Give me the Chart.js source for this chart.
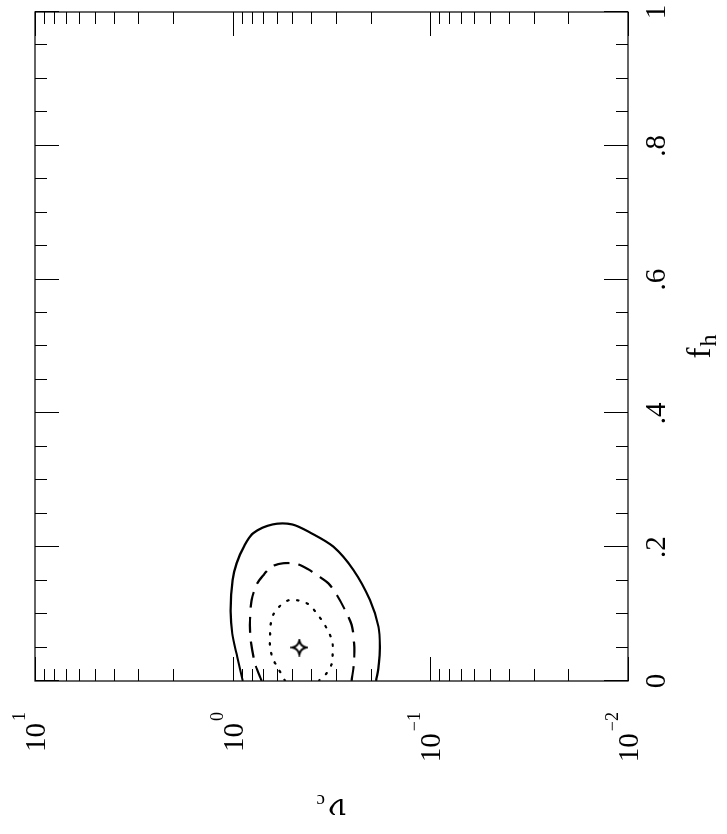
<!DOCTYPE html>
<html>
<head>
<meta charset="utf-8">
<script src="https://cdn.jsdelivr.net/npm/chart.js@4/dist/chart.umd.min.js"></script>
<style>
html,body{margin:0;padding:0;background:#fff;overflow:hidden;width:727px;height:834px;}
#wrap{position:absolute;left:0;top:0;width:834px;height:727px;transform-origin:0 0;transform:translate(0,834px) rotate(-90deg);background:#fff;}
</style>
</head>
<body>
<div id="wrap"><canvas id="c" width="834" height="727"></canvas></div>
<script>
// ---- data (f_h on the linear axis, nu_c on the log axis) ----
const fhTickValues = [0, 0.2, 0.4, 0.6, 0.8, 1];
const fhTickLabels = ['0', '.2', '.4', '.6', '.8', '1'];
const nuTickValues = [10, 1, 0.1, 0.01];
const nuTickExponents = ['1', '0', '\u22121', '\u22122'];

const solidFh = [0, 0.036, 0.071, 0.106, 0.151, 0.176, 0.201, 0.221, 0.234, 0.234, 0.222, 0.201, 0.166, 0.121, 0.081, 0.051, 0.026, 0];
const solidNu = [0.889, 0.948, 1.005, 1.023, 1.0, 0.955, 0.877, 0.787, 0.628, 0.499, 0.406, 0.310, 0.245, 0.202, 0.183, 0.180, 0.182, 0.188];

const dashedFh = [0, 0.026, 0.061, 0.091, 0.121, 0.144, 0.158, 0.171, 0.176, 0.175, 0.167, 0.157, 0.146, 0.129, 0.106, 0.084, 0.056, 0.031, 0];
const dashedNu = [0.713, 0.771, 0.811, 0.817, 0.802, 0.757, 0.700, 0.635, 0.555, 0.474, 0.415, 0.369, 0.328, 0.298, 0.270, 0.250, 0.243, 0.243, 0.250];

const dottedFh = [0, 0.021, 0.034, 0.051, 0.066, 0.084, 0.099, 0.112, 0.121, 0.120, 0.114, 0.101, 0.089, 0.074, 0.059, 0.044, 0.026, 0.012, 0.001];
const dottedNu = [0.543, 0.594, 0.628, 0.647, 0.647, 0.643, 0.624, 0.577, 0.518, 0.460, 0.410, 0.376, 0.351, 0.328, 0.313, 0.312, 0.315, 0.334, 0.365];

const bestFh = [0.050];
const bestNu = [0.46];

// ---- helpers ----
const pts = (xs, ys) => xs.map((v, i) => ({x: v, y: ys[i]}));

// four-pointed star marker
const star = document.createElement('canvas');
star.width = 18; star.height = 18;
(function () {
  const g = star.getContext('2d');
  const c = 9, r = 7, k = 1.2;
  g.strokeStyle = '#000'; g.lineWidth = 2;
  g.beginPath();
  g.moveTo(c, c - r);
  g.quadraticCurveTo(c + k, c - k, c + r, c);
  g.quadraticCurveTo(c + k, c + k, c, c + r);
  g.quadraticCurveTo(c - k, c + k, c - r, c);
  g.quadraticCurveTo(c - k, c - k, c, c - r);
  g.closePath();
  g.stroke();
})();

const SERIF = '"Liberation Serif", "DejaVu Serif", serif';

const framePlugin = {
  id: 'frame',
  afterDraw(chart) {
    const {ctx, chartArea: a, scales: {x, y}} = chart;
    ctx.save();
    ctx.strokeStyle = '#111';
    ctx.lineWidth = 1.3;
    ctx.strokeRect(a.left, a.top, a.right - a.left, a.bottom - a.top);
    ctx.lineWidth = 1;
    ctx.strokeStyle = '#000';
    const line = (x1, y1, x2, y2) => { ctx.beginPath(); ctx.moveTo(x1, y1); ctx.lineTo(x2, y2); ctx.stroke(); };
    // f_h ticks (every 0.05, long at labelled values)
    for (let i = 0; i <= 20; i++) {
      const v = i * 0.05;
      const major = fhTickValues.some(t => Math.abs(t - v) < 1e-6);
      const len = major ? 24 : 12;
      const px = Math.round(x.getPixelForValue(v)) + 0.5;
      line(px, a.bottom, px, a.bottom - len);
      line(px, a.top, px, a.top + len);
    }
    // nu ticks (log, 1..9 per decade)
    const decades = [0.01, 0.1, 1];
    for (const d of decades) {
      for (let m = 1; m <= 9; m++) {
        const v = m * d;
        const len = m === 1 ? 24 : 12;
        const py = Math.round(y.getPixelForValue(v)) + 0.5;
        line(a.left, py, a.left + len, py);
        line(a.right, py, a.right - len, py);
      }
    }
    {
      const py = Math.round(y.getPixelForValue(10)) + 0.5;
      line(a.left, py, a.left + 24, py);
      line(a.right, py, a.right - 24, py);
    }
    // f_h tick labels
    ctx.fillStyle = '#000';
    ctx.font = '29px ' + SERIF;
    ctx.textAlign = 'center';
    ctx.textBaseline = 'alphabetic';
    fhTickValues.forEach((v, i) => {
      ctx.fillText(fhTickLabels[i], x.getPixelForValue(v), a.bottom + 37);
    });
    // nu tick labels: 10^n, right aligned
    const rightEdge = a.left - 31;
    nuTickValues.forEach((v, i) => {
      const py = y.getPixelForValue(v);
      ctx.textAlign = 'right';
      ctx.font = '18px ' + SERIF;
      const ew = ctx.measureText(nuTickExponents[i]).width;
      ctx.fillText(nuTickExponents[i], rightEdge, py - 10);
      ctx.font = '29px ' + SERIF;
      ctx.fillText('10', rightEdge - ew - 2, py + 10);
    });
    // f_h title
    ctx.textAlign = 'left';
    ctx.font = '33px ' + SERIF;
    const fw = ctx.measureText('f').width;
    ctx.font = '24px ' + SERIF;
    const hw = ctx.measureText('h').width;
    const cx = (a.left + a.right) / 2;
    let sx = cx - (fw + hw + 1) / 2;
    ctx.font = '33px ' + SERIF;
    ctx.fillText('f', sx, a.bottom + 82);
    ctx.font = '24px ' + SERIF;
    ctx.fillText('h', sx + fw + 1, a.bottom + 88);
    // nu_c title (rotated)
    ctx.save();
    const cy = (a.top + a.bottom) / 2;
    ctx.translate(35, cy);
    ctx.rotate(-Math.PI / 2);
    const NUFONT = '30px "DejaVu Serif", serif';
    ctx.font = NUFONT;
    const nw = ctx.measureText('\u03bd').width;
    ctx.font = '19px ' + SERIF;
    const cw = ctx.measureText('c').width;
    const u0 = -(nw + cw + 3) / 2;
    ctx.font = NUFONT;
    ctx.fillText('\u03bd', u0, 0);
    ctx.font = '19px ' + SERIF;
    ctx.fillText('c', u0 + nw + 3, 4);
    ctx.restore();
    ctx.restore();
  }
};

new Chart(document.getElementById('c'), {
  type: 'scatter',
  data: {
    datasets: [
      {data: pts(solidFh, solidNu), showLine: true, borderColor: '#000', borderWidth: 2.2, pointRadius: 0, tension: 0.3, fill: false},
      {data: pts(dashedFh, dashedNu), showLine: true, borderColor: '#000', borderWidth: 2.2, borderDash: [16, 9], pointRadius: 0, tension: 0.3, fill: false},
      {data: pts(dottedFh, dottedNu), showLine: true, borderColor: '#000', borderWidth: 2.2, borderDash: [1.5, 8.5], borderCapStyle: 'round', pointRadius: 0, tension: 0.3, fill: false},
      {data: pts(bestFh, bestNu), showLine: false, pointStyle: star, pointRadius: 9}
    ]
  },
  options: {
    responsive: false,
    animation: false,
    devicePixelRatio: 1,
    layout: {padding: {top: 35, right: 12, left: 0, bottom: 0}},
    plugins: {legend: {display: false}, tooltip: {enabled: false}},
    scales: {
      x: {
        type: 'linear', min: 0, max: 1, position: 'bottom',
        grid: {display: false}, border: {display: false},
        ticks: {display: false},
        afterFit: s => { s.height = 99; }
      },
      y: {
        type: 'logarithmic', min: 0.01, max: 10, position: 'left',
        grid: {display: false}, border: {display: false},
        ticks: {display: false},
        afterFit: s => { s.width = 153; }
      }
    }
  },
  plugins: [framePlugin]
});
</script>
</body>
</html>
